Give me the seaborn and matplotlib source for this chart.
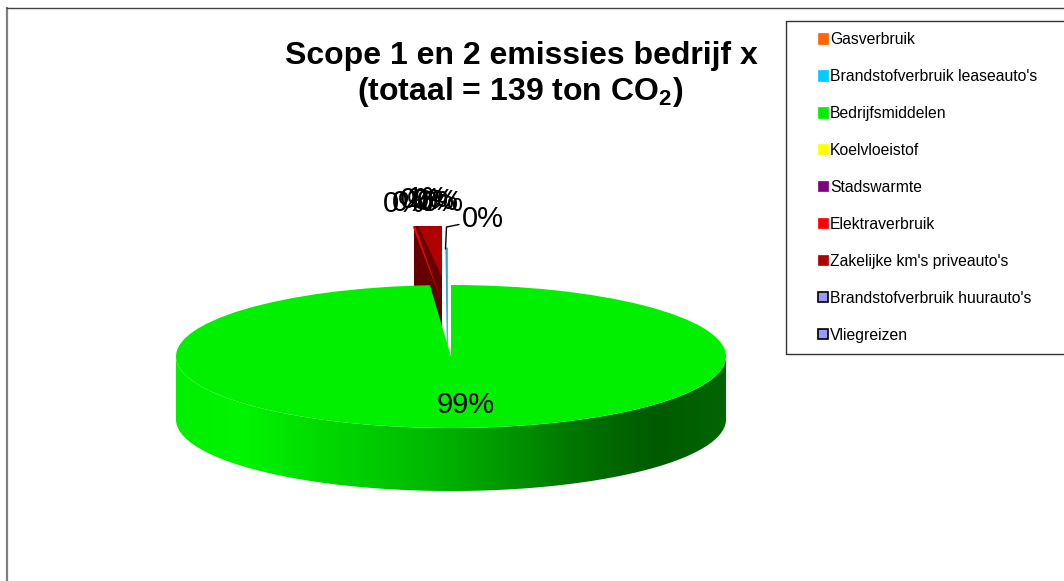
import numpy as np
import seaborn as sns
import matplotlib.pyplot as plt
from matplotlib.patches import Patch, Polygon, Rectangle

categories = ["Gasverbruik", "Brandstofverbruik leaseauto's", "Bedrijfsmiddelen", "Koelvloeistof",
              "Stadswarmte", "Elektraverbruik", "Zakelijke km's priveauto's",
              "Brandstofverbruik huurauto's", "Vliegreizen"]
values = [0.0, 0.06, 98.78, 0.0, 0.0, 0.14, 0.94, 0.04, 0.04]
colors = ["#ff6600", "#00ccff", "#00f000", "#ffff00", "#800080", "#ff0000", "#b00000", "#9999ff", "#9999ff"]
edges = ["#ff6600", "#00ccff", "#00f000", "#ffff00", "#800080", "#ff0000", "#b00000", "#000000", "#000000"]

sns.set_theme(style="white")
plt.rcParams["font.family"] = ["Liberation Sans", "DejaVu Sans"]
plt.rcParams["text.color"] = "black"
plt.rcParams["mathtext.fontset"] = "custom"
plt.rcParams["mathtext.bf"] = "Liberation Sans:bold"

W, H = 1064, 581
CX, CY, RX, RY = 451, 356.5, 275, 71.5
DEPTH = 63 / RY


def dx(px):
    return (px - CX) / RX


def dy(py):
    return (CY - py) / RY


fig = plt.figure(figsize=(W / 100, H / 100), dpi=100)
ax = fig.add_axes([0, 0, 1, 1])

# chart area only shows its left and top line, legend box runs off the right side
ax.plot([dx(7), dx(7)], [dy(7), dy(H)], color="#808080", lw=1.6, zorder=1, solid_capstyle="butt")
ax.plot([dx(6), dx(W)], [dy(7.5), dy(7.5)], color="#444444", lw=1, zorder=1, solid_capstyle="butt")
ax.add_patch(Rectangle((dx(786.5), dy(353.5)), dx(1070) - dx(786.5), dy(20.5) - dy(353.5), fc="white", ec="#333333", lw=1, zorder=1))


def one_slice(value, start, color, center=(0, 0), radius=1.0, z=3, lw=0):
    # clockwise slice, start in degrees measured from 12 o'clock
    wedges, _ = ax.pie([value, 100 - value], colors=[color, "none"], startangle=90 - start,
                       counterclock=False, center=center, radius=radius,
                       wedgeprops=dict(lw=lw, edgecolor=color), frame=True)
    wedges[0].set_zorder(z)
    wedges[1].set_visible(False)


# green side wall with the shading across the front
t = np.linspace(np.pi, 2 * np.pi, 200)
wall = np.r_[np.c_[np.cos(t), np.sin(t)], np.c_[np.cos(t[::-1]), np.sin(t[::-1]) - DEPTH]]
shade = sns.blend_palette(["#00f000", "#00f400", "#00dc00", "#00c800", "#00b000",
                           "#009000", "#007000", "#005a00", "#006600"], 256)
im = ax.imshow(np.array(shade)[None, :, :], extent=(-1, 1, -1 - DEPTH, 0), aspect="auto", zorder=2)
clip = Polygon(wall, closed=True, transform=ax.transData, fc="none", ec="none")
ax.add_patch(clip)
im.set_clip_path(clip)

# big slice on top, starts right of the small ones
one_slice(values[2], 0, colors[2], z=5)

# the small slices stand up behind the green one
stretch = 2.07
ax.fill_between([dx(414), dx(442)], dy(226), dy(330), color="#640000", lw=0, zorder=3)
one_slice(values[6] * stretch, -values[6] * stretch * 3.6, colors[6],
          center=(dx(442), dy(277)), radius=dy(226) - dy(277), z=4)
one_slice(values[5], -values[5] * 3.6 - 5.2, colors[5],
          center=(dx(441), dy(300)), radius=dy(226) - dy(300), z=4)
one_slice(values[1], -values[1] * 3.6, "#2ea6cc",
          center=(dx(447.3), dy(345)), radius=dy(248) - dy(345), z=4, lw=0.7)

# labels
ax.text(dx(466), dy(405), f"{values[2]:.0f}%", fontsize=21, ha="center", va="center", zorder=7)
small = [3, 4, 5, 6, 7, 8, 0]
label_px = [(404, 204), (413, 203), (421, 200), (428, 199), (434, 201), (438, 202), (443, 203)]
for i, (x, y) in zip(small, label_px):
    ax.text(dx(x), dy(y), f"{values[i]:.0f}%", fontsize=21, ha="center", va="center", zorder=7)
ax.text(dx(483), dy(219), f"{values[1]:.0f}%", fontsize=21, ha="center", va="center", zorder=7)
ax.plot([dx(445.5), dx(446.5), dx(459)], [dy(249), dy(227), dy(224.5)], color="black", lw=1, zorder=6)

# title
ax.text(dx(521), dy(56), "Scope 1 en 2 emissies bedrijf x", fontsize=23, fontweight="bold", ha="center", va="center", zorder=7)
ax.text(dx(520.5), dy(92), r"(totaal = 139 ton CO$_{\mathbf{2}}$)", fontsize=23, fontweight="bold", ha="center", va="center", zorder=7)

# legend
handles = [Patch(facecolor=c, edgecolor=e, lw=1.2 if e == "#000000" else 0.5) for c, e in zip(colors, edges)]
leg = ax.legend(handles, categories, loc="upper left", bbox_to_anchor=(dx(818), dy(32)),
                bbox_transform=ax.transData, frameon=False, fontsize=11.3, ncol=1,
                handlelength=0.62, handleheight=0.62, handletextpad=0.15,
                labelspacing=1.40, borderpad=0, borderaxespad=0, labelcolor="black")
leg.set_zorder(8)

ax.set_aspect("auto")
ax.set_xlim(dx(0), dx(W))
ax.set_ylim(dy(H), dy(0))
ax.set_xticks([])
ax.set_yticks([])
ax.axis("off")

fig.savefig("out.png", dpi=100, facecolor="white")
